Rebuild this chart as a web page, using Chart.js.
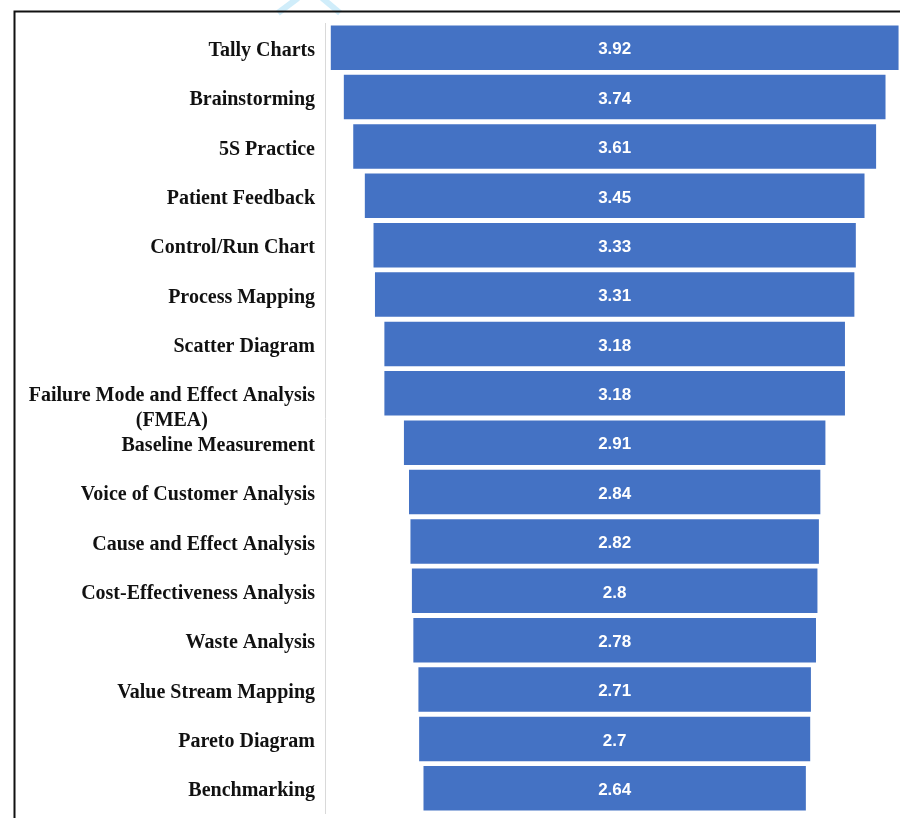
<!DOCTYPE html>
<html>
<head>
<meta charset="utf-8">
<script src="https://cdn.jsdelivr.net/npm/chart.js@4/dist/chart.umd.min.js"></script>
<style>
  html, body { margin: 0; padding: 0; background: #ffffff; }
  #wrap { width: 900px; height: 818px; position: relative; }
</style>
</head>
<body>
<div id="wrap"><canvas id="c" width="900" height="818"></canvas></div>
<script>
// Quality-improvement tools, ranked by mean score
const tools = [
  "Tally Charts",
  "Brainstorming",
  "5S Practice",
  "Patient Feedback",
  "Control/Run Chart",
  "Process Mapping",
  "Scatter Diagram",
  ["Failure Mode and Effect Analysis", "(FMEA)"],
  "Baseline Measurement",
  "Voice of Customer Analysis",
  "Cause and Effect Analysis",
  "Cost-Effectiveness Analysis",
  "Waste Analysis",
  "Value Stream Mapping",
  "Pareto Diagram",
  "Benchmarking"
];
const meanScores = [3.92, 3.74, 3.61, 3.45, 3.33, 3.31, 3.18, 3.18, 2.91, 2.84, 2.82, 2.8, 2.78, 2.71, 2.7, 2.64];

// Funnel: each bar is centred on zero, spanning -v/2 .. +v/2
const funnelSpans = meanScores.map(v => [-v / 2, v / 2]);

const BAR_BLUE = "#4472C4";
const LABEL_FONT = 'bold 20px "Liberation Serif", "Times New Roman", serif';
const VALUE_FONT = 'bold 17px "Liberation Sans", Arial, sans-serif';

const funnelLabels = {
  id: "funnelLabels",
  afterDatasetsDraw(chart) {
    const ctx = chart.ctx;
    const y = chart.scales.y;
    const x = chart.scales.x;
    const labelRight = y.right - 10;
    ctx.save();
    ctx.textBaseline = "middle";
    // category names
    ctx.font = LABEL_FONT;
    ctx.fillStyle = "#111111";
    tools.forEach((name, i) => {
      const cy = y.getPixelForValue(i) + 3;
      if (Array.isArray(name)) {
        ctx.textAlign = "right";
        ctx.fillText(name[0], labelRight, cy);
        const w = ctx.measureText(name[0]).width;
        ctx.textAlign = "center";
        for (let k = 1; k < name.length; k++) {
          ctx.fillText(name[k], labelRight - w / 2, cy + 25 * k);
        }
      } else {
        ctx.textAlign = "right";
        ctx.fillText(name, labelRight, cy);
      }
    });
    // value in each bar
    ctx.font = VALUE_FONT;
    ctx.fillStyle = "#ffffff";
    ctx.textAlign = "center";
    const cx = x.getPixelForValue(0);
    meanScores.forEach((v, i) => {
      ctx.fillText(String(v), cx, y.getPixelForValue(i) + 2);
    });
    ctx.restore();
  },
  afterDraw(chart) {
    const ctx = chart.ctx;
    ctx.save();
    // faint light-blue strokes near the top edge
    ctx.strokeStyle = "rgba(150, 215, 245, 0.45)";
    ctx.lineWidth = 6;
    ctx.beginPath();
    ctx.moveTo(278, 13); ctx.lineTo(298, -2);
    ctx.moveTo(322, -2); ctx.lineTo(340, 13);
    ctx.stroke();
    // black frame on the top and left
    ctx.strokeStyle = "#111111";
    ctx.lineWidth = 2;
    ctx.beginPath();
    ctx.moveTo(900, 11.5);
    ctx.lineTo(14.5, 11.5);
    ctx.lineTo(14.5, 818);
    ctx.stroke();
    ctx.restore();
  }
};

new Chart(document.getElementById("c"), {
  type: "bar",
  data: {
    labels: tools,
    datasets: [{
      data: funnelSpans,
      backgroundColor: BAR_BLUE,
      borderWidth: 0,
      barPercentage: 0.9,
      categoryPercentage: 1.0
    }]
  },
  options: {
    indexAxis: "y",
    responsive: false,
    animation: false,
    layout: { padding: { top: 23, bottom: 5, left: 0, right: 0 } },
    plugins: {
      legend: { display: false },
      tooltip: { enabled: false }
    },
    scales: {
      x: {
        display: false,
        min: -2.0,
        max: 1.97
      },
      y: {
        type: "category",
        grid: { display: false },
        border: { display: true, color: "#d9d9d9", width: 1 },
        ticks: { display: false },
        afterFit(scale) { scale.width = 325; }
      }
    }
  },
  plugins: [funnelLabels]
});
</script>
</body>
</html>
